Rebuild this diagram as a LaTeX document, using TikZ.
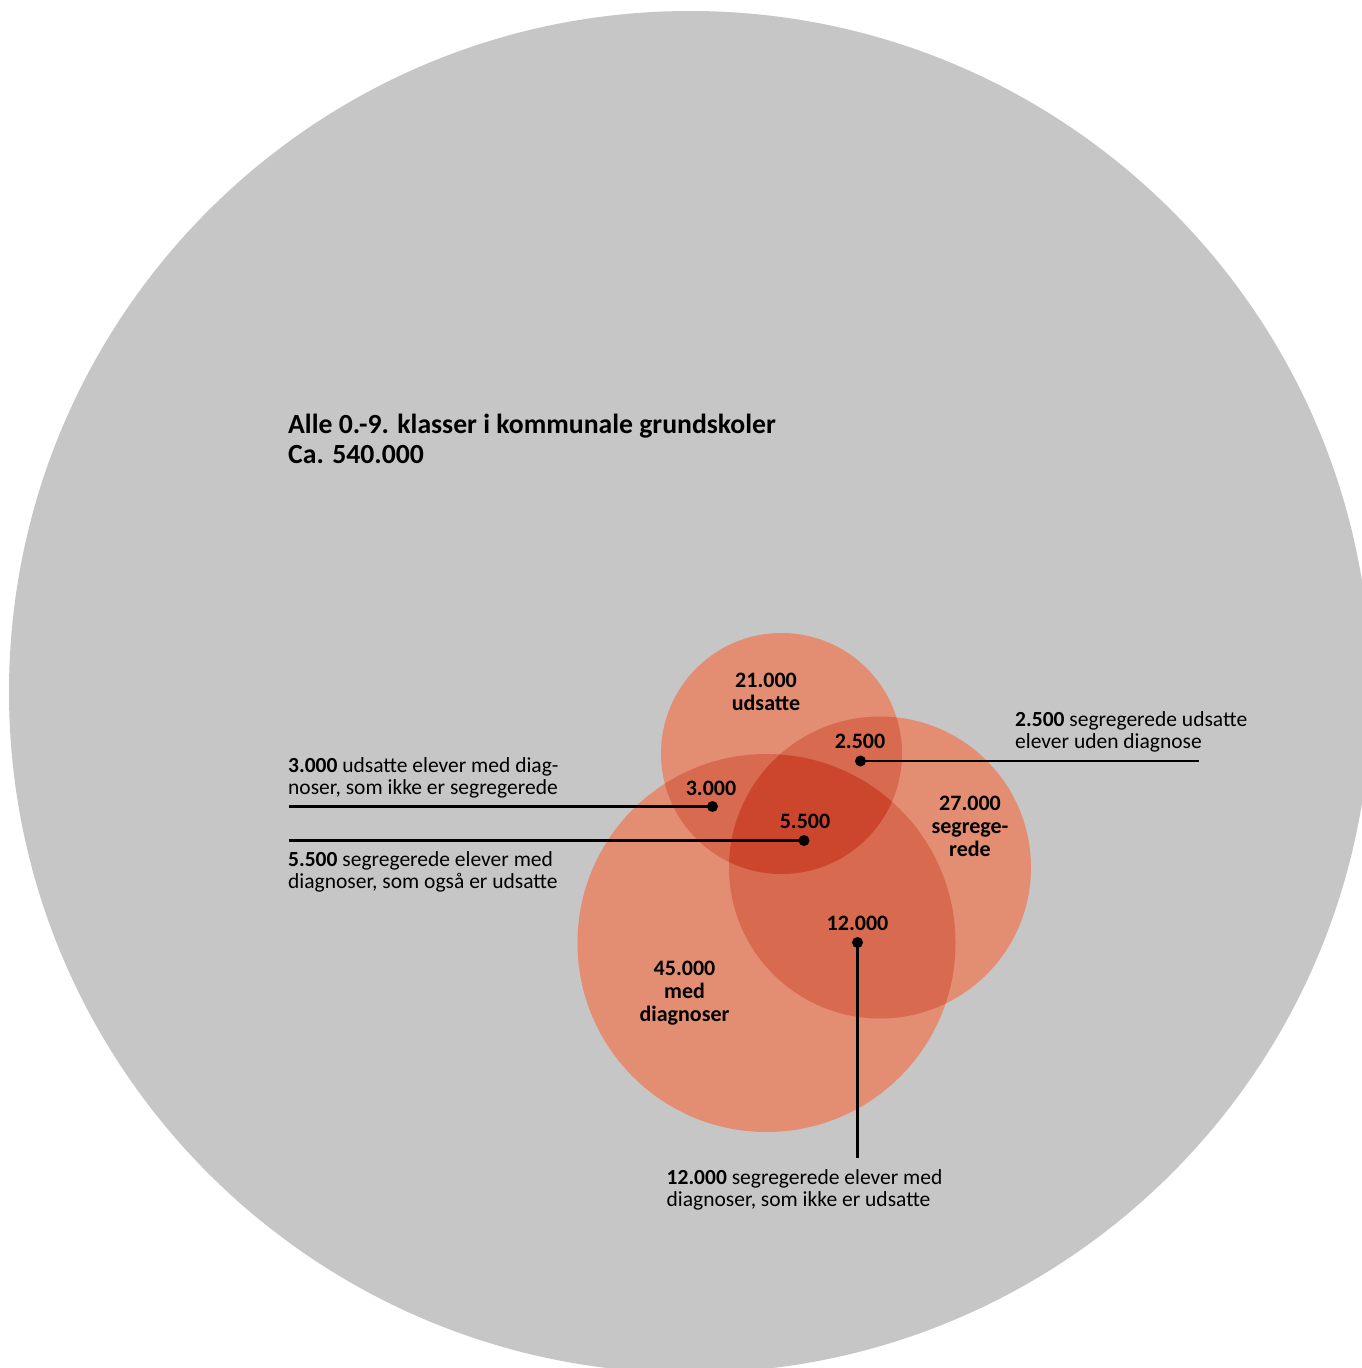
\documentclass[tikz,border=0pt]{standalone}
\usepackage{fontspec}
\setmainfont{Carlito}
\usepackage{tikz}
\usetikzlibrary{positioning}
\usepackage{xcolor}
\definecolor{allfill}{HTML}{C6C6C6}
\definecolor{onefill}{HTML}{E38D73}
\definecolor{twofill}{HTML}{D86A4F}
\definecolor{threefill}{HTML}{CC462E}
\tikzset{
  headline/.style={anchor=base west, align=left, inner sep=0pt,
                   font=\fontsize{27.7}{30}\selectfont\bfseries},
  note/.style    ={anchor=base west, align=left, inner sep=0pt,
                   font=\fontsize{21.5}{22}\selectfont},
  count/.style   ={anchor=base, align=center, inner sep=0pt,
                   font=\fontsize{22}{23}\selectfont\bfseries},
  pin/.style     ={circle, fill=black, inner sep=0pt, minimum size=11pt},
  lead/.style    ={line width=2.6pt},
}

\begin{document}
\begin{tikzpicture}[x=1pt, y=-1pt]
    \useasboundingbox (0,0) rectangle (1361,1368);
    \fill[white] (0,0) rectangle (1361,1368);
    \fill[allfill] (690,692) circle (681);

    \coordinate (udsat) at (781.5,753.5);
    \coordinate (segr) at (880,867.5);
    \coordinate (diag) at (766.5,943);

    \fill[onefill] (udsat) circle (120.5);
    \fill[onefill] (segr) circle (151);
    \fill[onefill] (diag) circle (189);
    \begin{scope}
      \clip (udsat) circle (120.5);
      \fill[twofill] (segr) circle (151);
      \fill[twofill] (diag) circle (189);
    \end{scope}
    \begin{scope}
      \clip (segr) circle (151);
      \fill[twofill] (diag) circle (189);
    \end{scope}
    \begin{scope}
      \clip (udsat) circle (120.5);
      \clip (segr) circle (151);
      \fill[threefill] (diag) circle (189);
    \end{scope}

    \node[headline] (title) at (288,463) {Alle 0.-9. klasser i kommunale grundskoler\\Ca. 540.000};

    \node[count] (udsatlbl) at (766,710.5) {21.000\\udsatte};
    \node[count] (segrlbl) at (970,856) {27.000\\segrege-\\rede};
    \node[count] (diaglbl) at (684.5,1021.5) {45.000\\med\\diagnoser};
    \node[count] (uslbl) at (860,748) {2.500};
    \node[count] (udlbl) at (711,795) {3.000};
    \node[count] (alllbl) at (805,828) {5.500};
    \node[count] (sdlbl) at (857.5,930.5) {12.000};

    \node[pin] (uspin) at (860.5,761) {};
    \node[pin] (udpin) at (712.5,806.5) {};
    \node[pin] (allpin) at (804,840.5) {};
    \node[pin] (sdpin) at (857.5,942.5) {};

    \coordinate (usend) at (1199,761);
    \coordinate (udend) at (289,806.5);
    \coordinate (allend) at (289,840.5);
    \coordinate (sdend) at (857.5,1158);

    \draw[lead] (uspin.center) -- (usend);
    \draw[lead] (udpin.center) -- (udend);
    \draw[lead] (allpin.center) -- (allend);
    \draw[lead] (sdpin.center) -- (sdend);

    \node[note] (usnote) at (1015,748) {\textbf{2.500} segregerede udsatte\\elever uden diagnose};
    \node[note] (udnote) at (288,794) {\textbf{3.000} udsatte elever med diag-\\noser, som ikke er segregerede};
    \node[note] (allnote) at (288,888.5) {\textbf{5.500} segregerede elever med\\diagnoser, som også er udsatte};
    \node[note] (sdnote) at (666.5,1206.5) {\textbf{12.000} segregerede elever med\\diagnoser, som ikke er udsatte};
  \end{tikzpicture}
\end{document}
